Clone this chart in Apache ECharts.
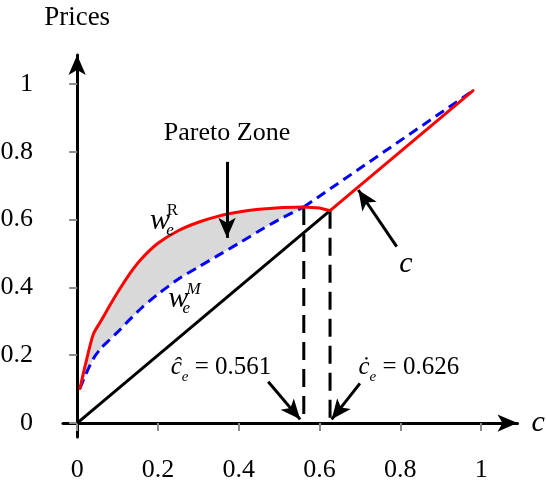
<!DOCTYPE html>
<html>
<head>
<meta charset="utf-8">
<script src="https://cdn.jsdelivr.net/npm/echarts@6/dist/echarts.min.js"></script>
<style>
  html, body { margin: 0; padding: 0; background: #fff; }
  #chart { width: 546px; height: 485px; }
</style>
</head>
<body>
<div id="chart"></div>
<script>
// Cost c on the horizontal axis, prices on the vertical axis.
// Shared sample points where both price curves are defined (up to c-hat).
const sharedC = [0.007, 0.02, 0.04, 0.06, 0.08, 0.1, 0.13, 0.16, 0.2, 0.25, 0.3, 0.35, 0.4, 0.45, 0.5, 0.561];
const wageR   = [0.102, 0.17, 0.262, 0.303, 0.345, 0.385, 0.44, 0.485, 0.53, 0.567, 0.592, 0.61, 0.622, 0.63, 0.635, 0.637];
const wageM   = [0.102, 0.14, 0.19, 0.222, 0.245, 0.268, 0.305, 0.34, 0.38, 0.424, 0.46, 0.495, 0.53, 0.566, 0.6, 0.637];
// Remaining straight parts of each curve beyond the shared range.
const wageRTailC = [0.561, 0.6, 0.626, 0.98];
const wageRTail  = [0.637, 0.634, 0.626, 0.98];
const wageMTailC = [0.561, 0.98];
const wageMTail  = [0.637, 0.98];
// Threshold costs.
const cHat = 0.561;
const cDot = 0.626;
// Axis ticks.
const xTicks = [0, 0.2, 0.4, 0.6, 0.8, 1];
const yTicks = [0, 0.2, 0.4, 0.6, 0.8, 1];

const FONT = "'Liberation Serif', 'Times New Roman', serif";

const zip = (a, b) => a.map((v, i) => [v, b[i]]);
const diagData = [[0, 0], [cDot, cDot]];
const hatIdx = sharedC.indexOf(cHat);

const chart = echarts.init(document.getElementById('chart'), null, { renderer: 'canvas' });

const arrowLine = { color: '#000', width: 3, type: 'solid' };
function arrow(from, to) {
  return [{ coord: from }, { coord: to }];
}
function note(pos, text, style) {
  return {
    value: pos,
    label: Object.assign({ show: true, position: 'inside', formatter: text, color: '#000', fontFamily: FONT }, style)
  };
}
function subRich() {
  return {
    c: { fontFamily: FONT, fontSize: 25, fontStyle: 'italic', color: '#000', lineHeight: 34, verticalAlign: 'middle' },
    e: { fontFamily: FONT, fontSize: 15, fontStyle: 'italic', color: '#000', lineHeight: 34, verticalAlign: 'bottom' },
    t: { fontFamily: FONT, fontSize: 25, color: '#000', lineHeight: 34, verticalAlign: 'middle' }
  };
}

const redStyle = { color: '#ff0000', width: 3, join: 'round', cap: 'round' };
const blueStyle = { color: '#0000ff', width: 3, type: [10, 6], join: 'round' };
const guideStyle = { color: '#000', width: 3, type: [18, 9] };

chart.setOption({
  animation: false,
  backgroundColor: '#fff',
  grid: { left: 63, right: 28.5, top: 55, bottom: 48, containLabel: false, outerBoundsMode: 'none' },
  xAxis: {
    type: 'value',
    min: -0.035,
    max: 1.09,
    splitLine: { show: false },
    axisLine: { onZero: true, lineStyle: { color: '#000', width: 3 }, symbol: ['none', 'arrow'], symbolSize: [13, 20] },
    axisTick: { show: true, customValues: xTicks, length: 8, inside: false, lineStyle: { color: '#8c8c8c', width: 2 } },
    axisLabel: { customValues: xTicks, margin: 20, color: '#000', fontFamily: FONT, fontSize: 26, hideOverlap: false,
                 formatter: v => String(v) },
    name: 'c',
    nameLocation: 'end',
    nameGap: 14,
    nameTextStyle: { fontFamily: FONT, fontStyle: 'italic', fontSize: 30, color: '#000' }
  },
  yAxis: {
    type: 'value',
    min: -0.041,
    max: 1.085,
    splitLine: { show: false },
    axisLine: { onZero: true, lineStyle: { color: '#000', width: 3 }, symbol: ['none', 'arrow'], symbolSize: [13, 20] },
    axisTick: { show: true, customValues: yTicks, length: 8, inside: false, lineStyle: { color: '#8c8c8c', width: 2 } },
    axisLabel: { customValues: yTicks, margin: 30, color: '#000', fontFamily: FONT, fontSize: 26, hideOverlap: false,
                 formatter: v => String(v) },
    name: 'Prices',
    nameLocation: 'end',
    nameGap: 24,
    nameTextStyle: { fontFamily: FONT, fontSize: 27, color: '#000' }
  },
  series: [
    {
      // Pareto zone: region between the two price curves
      type: 'custom',
      silent: true,
      z: 1,
      data: [0],
      renderItem: function (params, api) {
        const pts = [];
        for (let i = 0; i <= hatIdx; i++) pts.push(api.coord([sharedC[i], wageR[i]]));
        for (let i = hatIdx; i >= 0; i--) pts.push(api.coord([sharedC[i], wageM[i]]));
        return { type: 'polygon', shape: { points: pts }, style: { fill: '#d9d9d9' } };
      }
    },
    {
      // marginal cost line c
      type: 'line', data: diagData, symbol: 'none', z: 2,
      lineStyle: { color: '#000', width: 3 }
    },
    {
      type: 'line', data: [[cHat, wageR[hatIdx]], [cHat, 0]], symbol: 'none', z: 2,
      lineStyle: guideStyle
    },
    {
      type: 'line', data: [[cDot, cDot], [cDot, 0]], symbol: 'none', z: 2,
      lineStyle: guideStyle
    },
    {
      name: 'wM', type: 'line', data: zip(sharedC, wageM), symbol: 'none', z: 3,
      smooth: 0.25, lineStyle: blueStyle
    },
    {
      name: 'wM tail', type: 'line', data: zip(wageMTailC, wageMTail), symbol: 'none', z: 3,
      lineStyle: blueStyle
    },
    {
      name: 'wR', type: 'line', data: zip(sharedC, wageR), symbol: 'none', z: 4,
      smooth: 0.25, lineStyle: redStyle
    },
    {
      name: 'wR tail', type: 'line', data: zip(wageRTailC, wageRTail), symbol: 'none', z: 4,
      lineStyle: redStyle
    },
    {
      // annotation arrows and texts
      type: 'scatter', symbolSize: 0, z: 5, silent: true,
      itemStyle: { opacity: 1 },
      data: [
        note([0.371, 0.855], 'Pareto Zone', { fontSize: 26 }),
        note([0.205, 0.596], 'w', { fontSize: 30, fontStyle: 'italic' }),
        note([0.230, 0.568], 'e', { fontSize: 17, fontStyle: 'italic' }),
        note([0.236, 0.628], 'R', { fontSize: 17 }),
        note([0.250, 0.366], 'w', { fontSize: 30, fontStyle: 'italic' }),
        note([0.270, 0.337], 'e', { fontSize: 17, fontStyle: 'italic' }),
        note([0.288, 0.394], 'M', { fontSize: 17, fontStyle: 'italic' }),
        note([0.814, 0.469], 'c', { fontSize: 30, fontStyle: 'italic' }),
        note([0.356, 0.165], '{c|\u0109}{e|e}{t| = ' + cHat + '}', { rich: subRich() }),
        note([0.821, 0.165], '{c|\u010B}{e|e}{t| = ' + cDot + '}', { rich: subRich() })
      ],
      markLine: {
        silent: true,
        symbol: ['none', 'arrow'],
        symbolSize: [13, 20],
        label: { show: false },
        lineStyle: arrowLine,
        data: [
          arrow([0.371, 0.770], [0.371, 0.546]),
          arrow([0.791, 0.520], [0.696, 0.687]),
          arrow([0.473, 0.122], [0.552, 0.011]),
          arrow([0.700, 0.117], [0.630, 0.011])
        ]
      }
    }
  ]
});
</script>
</body>
</html>
